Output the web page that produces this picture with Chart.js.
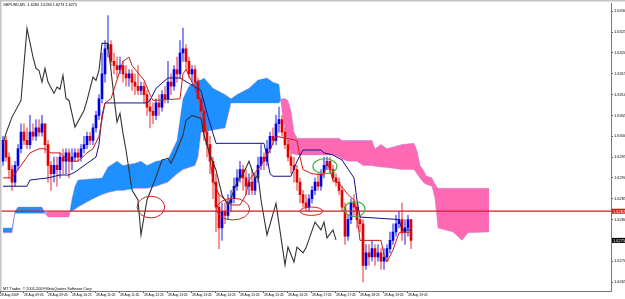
<!DOCTYPE html>
<html>
<head>
<meta charset="utf-8">
<script src="https://cdn.jsdelivr.net/npm/chart.js@4/dist/chart.umd.min.js"></script>
<style>
  html, body { margin: 0; padding: 0; background: #fff; }
  canvas { display: block; }
</style>
</head>
<body>
<canvas id="chart" width="625" height="299"></canvas>
<script>
// GBPUSD M5, 28 Aug 2009, bar 0 = 08:30
const opens = [
  1.6294,1.6299,1.6295,1.6292,1.6289,1.6293,1.6297,1.6301,1.6299,1.6298,
  1.6301,1.6300,1.6302,1.6301,1.6303,1.6298,1.6293,1.6291,1.6293,1.6292,
  1.6295,1.6294,1.6296,1.6294,1.6295,1.6296,1.6295,1.6297,1.6298,1.6300,
  1.6299,1.6302,1.6305,1.6309,1.6315,1.6321,1.6322,1.6318,1.6317,1.6316,
  1.6317,1.6315,1.6314,1.6315,1.6313,1.6312,1.6311,1.6312,1.6310,1.6307,
  1.6306,1.6305,1.6308,1.6307,1.6310,1.6309,1.6313,1.6312,1.6316,1.6315,
  1.6320,1.6321,1.6318,1.6315,1.6316,1.6313,1.6309,1.6306,1.6301,1.6298,
  1.6294,1.6289,1.6283,1.6278,1.6282,1.6281,1.6284,1.6285,1.6288,1.6290,
  1.6292,1.6290,1.6288,1.6289,1.6287,1.6290,1.6293,1.6295,1.6294,1.6297,
  1.6300,1.6299,1.6303,1.6304,1.6301,1.6298,1.6295,1.6293,1.6292,1.6289,
  1.6286,1.6284,1.6283,1.6285,1.6287,1.6289,1.6288,1.6291,1.6293,1.6294,
  1.6292,1.6290,1.6289,1.6287,1.6283,1.6276,1.6280,1.6284,1.6283,1.6280,
  1.6279,1.6269,1.6272,1.6271,1.6273,1.6271,1.6272,1.6270,1.6271,1.6273,
  1.6275,1.6277,1.6279,1.6280,1.6277,1.6278,1.6280
];
const closes = [
  1.6299,1.6295,1.6292,1.6289,1.6293,1.6297,1.6301,1.6299,1.6298,1.6301,
  1.6300,1.6302,1.6301,1.6303,1.6298,1.6293,1.6291,1.6293,1.6292,1.6295,
  1.6294,1.6296,1.6294,1.6295,1.6296,1.6295,1.6297,1.6298,1.6300,1.6299,
  1.6302,1.6305,1.6309,1.6315,1.6321,1.6322,1.6318,1.6317,1.6316,1.6317,
  1.6315,1.6314,1.6315,1.6313,1.6312,1.6311,1.6312,1.6310,1.6307,1.6306,
  1.6305,1.6308,1.6307,1.6310,1.6309,1.6313,1.6312,1.6316,1.6315,1.6320,
  1.6321,1.6318,1.6315,1.6316,1.6313,1.6309,1.6306,1.6301,1.6298,1.6294,
  1.6289,1.6283,1.6278,1.6282,1.6281,1.6284,1.6285,1.6288,1.6290,1.6292,
  1.6290,1.6288,1.6289,1.6287,1.6290,1.6293,1.6295,1.6294,1.6297,1.6300,
  1.6299,1.6303,1.6304,1.6301,1.6298,1.6295,1.6293,1.6292,1.6289,1.6286,
  1.6284,1.6283,1.6285,1.6287,1.6289,1.6288,1.6291,1.6293,1.6294,1.6292,
  1.6290,1.6289,1.6287,1.6283,1.6276,1.6280,1.6284,1.6283,1.6280,1.6279,
  1.6269,1.6272,1.6271,1.6273,1.6271,1.6272,1.6270,1.6271,1.6273,1.6275,
  1.6277,1.6279,1.6280,1.6277,1.6278,1.6280,1.6275
];
const highs = [
  1.6300,1.6300,1.6296,1.6293,1.6294,1.6298,1.6303,1.6303,1.6302,1.6305,
  1.6303,1.6304,1.6304,1.6305,1.6303,1.6299,1.6294,1.6295,1.6295,1.6296,
  1.6297,1.6297,1.6297,1.6297,1.6297,1.6297,1.6298,1.6300,1.6301,1.6301,
  1.6303,1.6306,1.6310,1.6320,1.6323,1.6329,1.6323,1.6320,1.6319,1.6319,
  1.6318,1.6317,1.6316,1.6316,1.6315,1.6317,1.6313,1.6313,1.6311,1.6309,
  1.6308,1.6309,1.6310,1.6311,1.6312,1.6318,1.6315,1.6317,1.6319,1.6323,
  1.6326,1.6322,1.6319,1.6317,1.6317,1.6314,1.6310,1.6307,1.6303,1.6300,
  1.6295,1.6291,1.6286,1.6284,1.6284,1.6286,1.6287,1.6290,1.6292,1.6294,
  1.6293,1.6292,1.6291,1.6292,1.6291,1.6295,1.6298,1.6296,1.6299,1.6301,
  1.6302,1.6305,1.6307,1.6305,1.6302,1.6299,1.6296,1.6295,1.6293,1.6290,
  1.6287,1.6286,1.6286,1.6288,1.6290,1.6291,1.6292,1.6295,1.6295,1.6295,
  1.6293,1.6291,1.6290,1.6288,1.6284,1.6281,1.6285,1.6286,1.6284,1.6281,
  1.6280,1.6274,1.6274,1.6275,1.6274,1.6274,1.6273,1.6273,1.6274,1.6277,
  1.6279,1.6281,1.6282,1.6284,1.6280,1.6281,1.6280
];
const lows = [
  1.6293,1.6294,1.6290,1.6287,1.6288,1.6292,1.6296,1.6298,1.6297,1.6297,
  1.6299,1.6299,1.6300,1.6300,1.6296,1.6289,1.6287,1.6289,1.6288,1.6290,
  1.6291,1.6291,1.6290,1.6292,1.6294,1.6294,1.6294,1.6296,1.6297,1.6298,
  1.6298,1.6301,1.6304,1.6308,1.6313,1.6319,1.6317,1.6315,1.6314,1.6315,
  1.6313,1.6312,1.6312,1.6311,1.6310,1.6310,1.6310,1.6308,1.6305,1.6302,
  1.6303,1.6304,1.6305,1.6306,1.6308,1.6308,1.6310,1.6311,1.6313,1.6314,
  1.6318,1.6316,1.6314,1.6313,1.6312,1.6308,1.6304,1.6299,1.6295,1.6291,
  1.6285,1.6277,1.6273,1.6275,1.6279,1.6280,1.6282,1.6284,1.6287,1.6289,
  1.6287,1.6286,1.6286,1.6286,1.6286,1.6289,1.6292,1.6292,1.6293,1.6296,
  1.6298,1.6298,1.6301,1.6300,1.6297,1.6294,1.6291,1.6289,1.6287,1.6284,
  1.6283,1.6282,1.6282,1.6284,1.6286,1.6287,1.6287,1.6290,1.6292,1.6291,
  1.6289,1.6288,1.6286,1.6282,1.6274,1.6275,1.6279,1.6281,1.6278,1.6277,
  1.6265,1.6268,1.6269,1.6270,1.6269,1.6270,1.6268,1.6268,1.6270,1.6272,
  1.6274,1.6276,1.6278,1.6275,1.6274,1.6276,1.6273
];

// Ichimoku lines, [bar, price]
const tenkan = [
  [0,1.6290],[3,1.6290],[5,1.6292],[9,1.6296],[12,1.6297],[14,1.6297],[16,1.6296],[19,1.6296],
  [22,1.6294],[25,1.6294],[28,1.6296],[30,1.6297],[32,1.6300],[33,1.6304],[34,1.6308],[36,1.6309],
  [40,1.6318],[42,1.6319],[43,1.6317],[47,1.63135],[49,1.6310],[50,1.63086],[59,1.6309],[60,1.6315],
  [61,1.6316],[63,1.6313],[65,1.6310],[67,1.6306],[68,1.6299],[70,1.62895],[72,1.6286],[76,1.62835],
  [79,1.62835],[81,1.6286],[82,1.62895],[86,1.6293],[89,1.62967],[91,1.6300],[98,1.6299],[99,1.6295],
  [100,1.6292],[103,1.6291],[107,1.62907],[108,1.6294],[110,1.62895],[112,1.62887],[115,1.6286],
  [117,1.62847],[118,1.6281],[119,1.6275],[126,1.6275],[127,1.62715],[128,1.62698],[130,1.62727],
  [132,1.62768],[136,1.6277]
];
const kijun = [
  [0,1.6288],[8,1.6288],[9,1.62895],[15,1.6290],[19,1.62907],[22,1.62907],[24,1.62914],[31,1.6295],
  [32,1.6298],[33,1.6305],[34,1.6308],[48,1.6308],[49,1.63086],[51,1.63115],[55,1.6314],[59,1.6314],
  [62,1.63127],[66,1.6311],[68,1.63055],[70,1.63007],[71,1.62983],[87,1.62983],[88,1.6295],[89,1.6291],
  [90,1.62904],[96,1.62904],[98,1.6294],[100,1.62967],[106,1.62967],[107,1.6296],[110,1.62955],
  [113,1.62943],[117,1.6290],[118,1.62847],[119,1.62806],[132,1.6280],[133,1.62775],[136,1.62775]
];
const chikou = [
  [0,1.62983],[1,1.63007],[3,1.63046],[6,1.63086],[8,1.63259],[10,1.6319],[11,1.63163],[12,1.63158],
  [13,1.6313],[14,1.63163],[15,1.6313],[17,1.63103],[18,1.63118],[19,1.63113],[20,1.63146],[21,1.63091],
  [22,1.63086],[24,1.63022],[27,1.63062],[28,1.63086],[30,1.63142],[31,1.63134],[32,1.63158],[33,1.63223],
  [35,1.63223],[37,1.63094],[38,1.63034],[39,1.63055],[40,1.63007],[41,1.62967],[43,1.62871],[45,1.62847],
  [46,1.62763],[47,1.62806],[48,1.62847],[51,1.62902],[53,1.62943],[55,1.62947],[56,1.62935],[57,1.6295],
  [58,1.62967],[60,1.63003],[61,1.63038],[63,1.6305],[66,1.63043],[67,1.63003],[69,1.62955],[71,1.62919],
  [73,1.62859],[75,1.62835],[76,1.62851],[78,1.6289],[80,1.62909],[82,1.6294],[83,1.62919],[84,1.62899],
  [85,1.62907],[86,1.62847],[88,1.62763],[91,1.62839],[94,1.62691],[95,1.62734],[97,1.62698],[98,1.62734],
  [100,1.6272],[101,1.62732],[104,1.62794],[106,1.62775],[107,1.62794],[108,1.62756],[110,1.62775],
  [111,1.62751]
];

// Kumo (shifted 26 bars ahead)
const cloudBars = [
  0,3,4,5,13,14,15,22,23,24,
  25,30,33,35,38,40,44,46,48,51,
  55,58,59,60,62,64,65,66,67,70,
  74,76,78,82,85,88,90,92,93,94,
  95,96,97,98,110,112,113,115,118,120,
  123,124,126,128,133,137,138,139,140,141,
  143,144,145,150,153,155,162
];
const spanA = [
  1.6278,1.6278,1.6282,1.6283,1.6283,1.62815,1.62806,1.62806,1.6285,1.6288,
  1.62895,1.62898,1.6290,1.62926,1.6294,1.6293,1.62935,1.6294,1.6293,1.6294,
  1.62945,1.6299,1.6304,1.6309,1.6312,1.6313,1.63135,1.63135,1.6314,1.63115,
  1.6310,1.6309,1.6310,1.63115,1.63135,1.6314,1.6313,1.63125,1.6306,1.6302,
  1.6298,1.6296,1.62957,1.62955,1.62955,1.6295,1.62945,1.6294,1.6294,1.6293,
  1.6293,1.62928,1.62926,1.62925,1.6292,1.6292,1.6291,1.6290,1.6289,1.62885,
  1.6288,1.6285,1.6278,1.6277,1.6275,1.62768,1.6277
];
const spanB = [
  1.62768,1.62768,1.62815,1.62815,1.62815,1.62816,1.62818,1.62818,1.6282,1.62825,
  1.6283,1.6285,1.6286,1.62865,1.6287,1.6287,1.62875,1.62875,1.62875,1.6288,
  1.6289,1.6291,1.62915,1.6292,1.62925,1.6293,1.6295,1.6301,1.6301,1.63015,
  1.6302,1.6308,1.6308,1.6308,1.6308,1.6308,1.6308,1.6308,1.6309,1.6309,
  1.63086,1.6306,1.6301,1.62995,1.62995,1.62995,1.6299,1.6299,1.6299,1.6299,
  1.6299,1.6297,1.6298,1.6297,1.6298,1.62983,1.62965,1.6293,1.6292,1.62905,
  1.6290,1.62885,1.62875,1.62875,1.62875,1.62875,1.62875
];

const hLinePrice = 1.6282;
const bidPrice = 1.6275;

// marks drawn by hand on the chart: [bar, price, half width (bars), half height (price)]
const redOvals = [[49.3, 1.6283, 4.6, 0.00026], [76.7, 1.62825, 5.5, 0.00026], [102.8, 1.6282, 3.8, 0.0001]];
const greenOvals = [[107.3, 1.62928, 4, 0.00018], [117.3, 1.62825, 3.4, 0.00018]];

const yTicks = [1.6265,1.6270,1.6275,1.6280,1.6285,1.6290,1.6295,1.6300,1.6305,1.6310,1.6315,1.6320,1.6325,1.6330];
const xTickBars = [-1,7,15,23,31,39,47,55,63,71,79,87,95,103,111,119,127,135];
const xTickLabels = ['28 Aug 2009','28 Aug 09:05','28 Aug 09:45','28 Aug 10:25','28 Aug 11:05','28 Aug 11:45',
  '28 Aug 12:25','28 Aug 13:05','28 Aug 13:45','28 Aug 14:25','28 Aug 15:05','28 Aug 15:45',
  '28 Aug 16:25','28 Aug 17:05','28 Aug 17:45','28 Aug 18:25','28 Aug 19:05','28 Aug 19:45'];

const titleText = 'GBPUSD,M5  1.6280 1.6280 1.6273 1.6275';
const footText = 'MT Trader, \u00a9 2001-2009 MetaQuotes Software Corp.';

const FONT = '"Liberation Sans", Arial, sans-serif';
const UP = '#0000e6', DOWN = '#e60000';

const pts = arr => arr.map(p => ({ x: p[0], y: p[1] }));
const idx = opens.map((_, i) => i);
const isUp = i => closes[i] >= opens[i];

const overlay = {
  id: 'overlay',
  afterDatasetsDraw(chart) {
    const { ctx, chartArea: a, scales: { x, y } } = chart;
    ctx.save();
    ctx.beginPath();
    ctx.rect(a.left, a.top, a.right - a.left, a.bottom - a.top);
    ctx.clip();
    // horizontal line
    const hy = y.getPixelForValue(hLinePrice);
    ctx.strokeStyle = '#d41c1c';
    ctx.lineWidth = 1.3;
    ctx.beginPath();
    ctx.moveTo(a.left, hy);
    ctx.lineTo(a.right, hy);
    ctx.stroke();
    // ovals
    const oval = (o, color, w) => {
      const cx = x.getPixelForValue(o[0]), cy = y.getPixelForValue(o[1]);
      const rx = x.getPixelForValue(o[0] + o[2]) - cx;
      const ry = cy - y.getPixelForValue(o[1] + o[3]);
      ctx.strokeStyle = color;
      ctx.lineWidth = w;
      ctx.beginPath();
      ctx.ellipse(cx, cy, rx, ry, 0, 0, Math.PI * 2);
      ctx.stroke();
    };
    redOvals.forEach(o => oval(o, '#cc2222', 1));
    greenOvals.forEach(o => oval(o, '#44b044', 1.2));
    ctx.restore();

    // texts
    ctx.save();
    ctx.fillStyle = '#000';
    ctx.font = '3.8px ' + FONT;
    ctx.textBaseline = 'middle';
    ctx.textAlign = 'left';
    ctx.fillText(titleText, 3, 5);
    ctx.fillText(footText, 3, 289);

    // price labels on the right axis
    ctx.font = '4px ' + FONT;
    const tag = (price, bg) => {
      const py = y.getPixelForValue(price);
      ctx.fillStyle = bg;
      ctx.fillRect(a.right + 1, py - 2.5, 13, 5);
      ctx.fillStyle = '#fff';
      ctx.fillText(price.toFixed(4), a.right + 2, py + 0.2);
    };
    tag(hLinePrice, '#e01010');
    tag(bidPrice, '#000');

    // window frame
    ctx.fillStyle = '#c4c4c4';
    ctx.fillRect(0, 0, 625, 1.5);
    ctx.fillRect(0, 0, 1.5, a.bottom);
    ctx.restore();
  }
};

new Chart(document.getElementById('chart'), {
  type: 'line',
  data: {
    datasets: [
      { // 0: senkou span B
        type: 'line',
        data: cloudBars.map((b, k) => ({ x: b, y: spanB[k] })),
        borderColor: 'rgba(205,150,215,0.8)',
        borderWidth: 0.8,
        pointRadius: 0,
        fill: false,
        order: 20
      },
      { // 1: senkou span A, kumo fill
        type: 'line',
        data: cloudBars.map((b, k) => ({ x: b, y: spanA[k] })),
        borderColor: 'rgba(150,110,200,0.5)',
        borderWidth: 0.6,
        pointRadius: 0,
        fill: { target: 0, above: '#1e90ff', below: '#ff69b4' },
        order: 19
      },
      { // wicks
        type: 'bar',
        data: idx.map(i => ({ x: i, y: [lows[i], highs[i]] })),
        backgroundColor: idx.map(i => isUp(i) ? 'rgba(70,70,235,0.75)' : 'rgba(235,70,70,0.7)'),
        barThickness: 1,
        grouped: false,
        order: 9
      },
      { // bodies
        type: 'bar',
        data: idx.map(i => ({ x: i, y: [opens[i], closes[i]] })),
        backgroundColor: idx.map(i => isUp(i) ? UP : DOWN),
        barThickness: 2,
        minBarLength: 1,
        grouped: false,
        order: 8
      },
      { type: 'line', data: pts(kijun), borderColor: '#10108a', borderWidth: 1, pointRadius: 0, order: 5 },
      { type: 'line', data: pts(tenkan), borderColor: '#d01818', borderWidth: 1, pointRadius: 0, order: 4 },
      { type: 'line', data: pts(chikou), borderColor: '#333333', borderWidth: 1.1, pointRadius: 0, order: 3 }
    ]
  },
  options: {
    responsive: false,
    animation: false,
    devicePixelRatio: 1,
    layout: { padding: { top: 3, left: 0, right: 0, bottom: 0 } },
    plugins: { legend: { display: false }, tooltip: { enabled: false } },
    scales: {
      x: {
        type: 'linear',
        min: -1,
        max: 202.67,
        offset: false,
        grid: { offset: false, drawOnChartArea: false, drawTicks: true, tickLength: 2, color: '#555' },
        border: { display: true, color: '#777', width: 1 },
        afterBuildTicks: s => { s.ticks = xTickBars.map(v => ({ value: v })); },
        afterFit: s => { s.height = 8; },
        ticks: {
          autoSkip: false, maxRotation: 0, align: 'start', padding: 0,
          color: '#000', font: { size: 3.3, family: FONT },
          callback: (v, i) => xTickLabels[i]
        }
      },
      y: {
        type: 'linear',
        position: 'right',
        min: 1.6262841,
        max: 1.6331906,
        grid: { drawOnChartArea: false, drawTicks: true, tickLength: 2, color: '#555' },
        border: { display: true, color: '#777', width: 1 },
        afterBuildTicks: s => { s.ticks = yTicks.map(v => ({ value: v })); },
        afterFit: s => { s.width = 14; },
        ticks: {
          padding: 1, color: '#000', font: { size: 4, family: FONT },
          callback: v => v.toFixed(4)
        }
      }
    }
  },
  plugins: [overlay]
});
</script>
</body>
</html>
